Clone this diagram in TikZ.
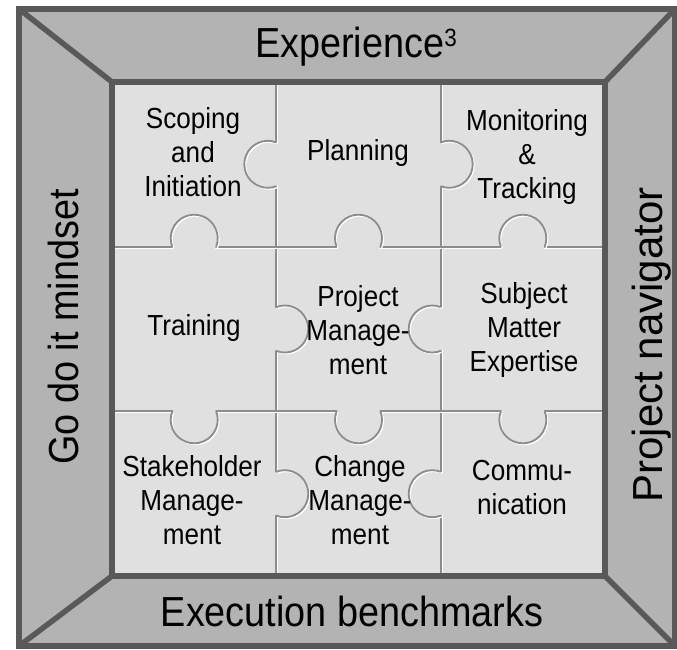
\documentclass[tikz,border=0pt]{standalone}
\usepackage{fontspec}
\setmainfont[FakeStretch=0.9]{Liberation Sans}
\newfontfamily\plainsans{Liberation Sans}
\usetikzlibrary{calc}
\definecolor{trapc}{HTML}{B3B3B3}
\definecolor{cellc}{HTML}{E0E0E0}
\definecolor{borderc}{HTML}{595959}
\definecolor{sepc}{HTML}{8C8C8C}
\newcommand\puzzletab[3]{%
  \fill[cellc] ($(#1,#2)+(#3:8.5)$) circle (23.2);
  \draw[hl] ($(#1,#2)+(#3:8.5)+(1.3,-1.3)$) ++(#3-111.2:23.5) arc[start angle=#3-111.2, end angle=#3+111.2, radius=23.5];
  \draw[sep] ($(#1,#2)+(#3:8.5)$) ++(#3-111.2:23.5) arc[start angle=#3-111.2, end angle=#3+111.2, radius=23.5];
}
\begin{document}
\begin{tikzpicture}[x=1pt,y=1pt,
  frame/.style={draw=borderc, line width=5.5pt},
  sep/.style={draw=sepc, line width=1.8pt},
  hl/.style={draw=white, line width=1.4pt},
  cell/.style={font=\fontsize{29}{34}\selectfont, align=center, text=black, inner sep=0pt},
  big/.style={font=\fontsize{42}{48}\selectfont, text=black, inner sep=0pt}]
\useasboundingbox (0,0) rectangle (677,650);
\fill[white] (0,0) rectangle (677,650);
\coordinate (O1) at (19,641);
\coordinate (O2) at (675,641);
\coordinate (O3) at (675,4);
\coordinate (O4) at (19,4);
\coordinate (I1) at (112,568);
\coordinate (I2) at (605,568);
\coordinate (I3) at (605,74);
\coordinate (I4) at (112,74);
\fill[trapc] (O1) rectangle (O3);
\fill[cellc] (I1) rectangle (I3);
% separators: highlight then gray
\foreach \xx in {276.3,440.7} {
  \draw[hl] (\xx+1.4,74) -- (\xx+1.4,568);
  \draw[sep] (\xx,74) -- (\xx,568);
}
\foreach \yy in {403.3,238.7} {
  \draw[hl] (112,\yy-1.4) -- (605,\yy-1.4);
  \draw[sep] (112,\yy) -- (605,\yy);
}
% tabs on vertical lines
\puzzletab{276.3}{485.7}{180}
\puzzletab{276.3}{321}{0}
\puzzletab{276.3}{156.3}{0}
\puzzletab{440.7}{485.7}{0}
\puzzletab{440.7}{321}{180}
\puzzletab{440.7}{156.3}{180}
% tabs on horizontal lines
\puzzletab{194.2}{403.3}{90}
\puzzletab{358.5}{403.3}{90}
\puzzletab{522.8}{403.3}{90}
\puzzletab{194.2}{238.7}{-90}
\puzzletab{358.5}{238.7}{-90}
\puzzletab{522.8}{238.7}{-90}
% frame
\draw[frame] (O1) -- (I1);
\draw[frame] (O2) -- (I2);
\draw[frame] (O3) -- (I3);
\draw[frame] (O4) -- (I4);
\draw[frame] (I1) rectangle (I3);
\draw[frame, line width=6pt] (O1) rectangle (O3);
% side labels
\node[big, anchor=base] (exp) at (356,592) {Experience\raisebox{0.28em}{\fontsize{25}{25}\selectfont 3}};
\node[big, anchor=base] (exe) at (352,23) {Execution benchmarks};
\node[big, anchor=base, rotate=90] (go) at (78,323) {Go do it mindset};
\node[big, anchor=base, rotate=90, font=\fontsize{42}{48}\plainsans] (nav) at (662,305) {Project navigator};
% cells
\node[cell] (c11) at (193,498) {Scoping\\and\\Initiation};
\node[cell] (c12) at (358,497) {Planning};
\node[cell] (c13) at (527,493) {Monitoring\\\&\\Tracking};
\node[cell] (c21) at (194,322) {Training};
\node[cell] (c22) at (358,320) {Project\\Manage-\\ment};
\node[cell] (c23) at (524,320) {Subject\\Matter\\Expertise};
\node[cell] (c31) at (192,150) {Stakeholder\\Manage-\\ment};
\node[cell] (c32) at (360,150) {Change\\Manage-\\ment};
\node[cell] (c33) at (522,162) {Commu-\\nication};
\end{tikzpicture}
\end{document}
